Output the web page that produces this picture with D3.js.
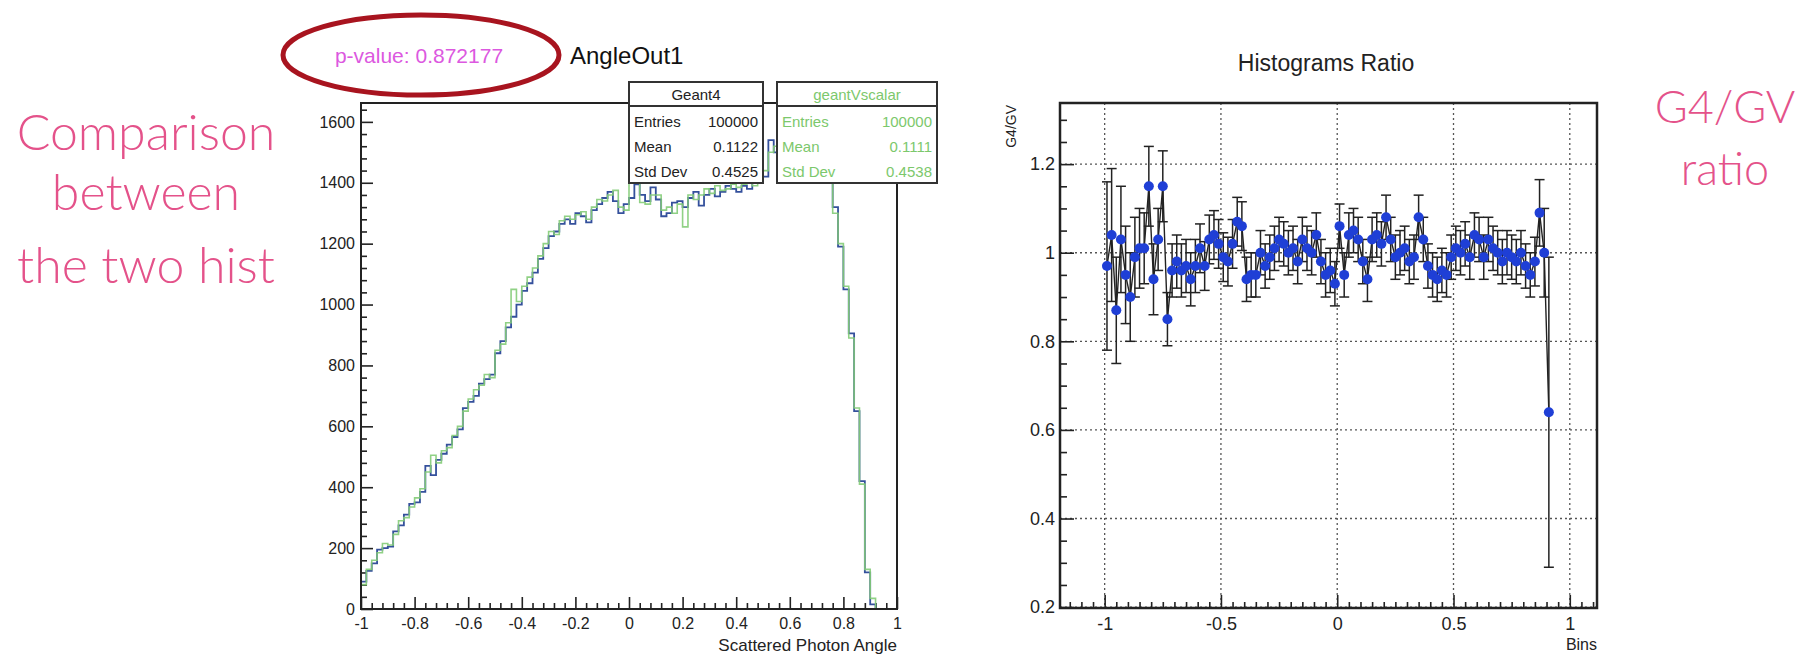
<!DOCTYPE html>
<html>
<head>
<meta charset="utf-8">
<script src="https://cdn.jsdelivr.net/npm/d3@7"></script>
<style>
  body { margin: 0; background: #fff; }
  svg text { font-family: "Liberation Sans", Arial, sans-serif; }
</style>
</head>
<body>
<svg id="chart" width="1811" height="655"></svg>
<script>
// histogram binning (AngleOut1): 100 bins on [-1, 1]
const nBins = 100;
const histMin = -1;
const histMax = 1;

const geant4Counts = [
  90, 125, 150, 195, 200, 205, 255, 275, 310, 345,
  350, 385, 470, 440, 490, 510, 540, 565, 590, 660,
  680, 700, 740, 755, 770, 840, 880, 925, 960, 1000,
  1045, 1070, 1105, 1150, 1185, 1225, 1240, 1265, 1280, 1265,
  1300, 1290, 1270, 1310, 1330, 1350, 1370, 1340, 1300, 1330,
  1350, 1395, 1360, 1340, 1385, 1345, 1290, 1300, 1335, 1340,
  1320, 1350, 1370, 1325, 1360, 1380, 1355, 1370, 1390, 1380,
  1370, 1390, 1380, 1400, 1410, 1420, 1540, 1500, 1520, 1505,
  1530, 1510, 1540, 1520, 1500, 1490, 1450, 1400, 1320, 1190,
  1050, 905, 650, 420, 120, 15, 0, 0, 0, 0
];

const vscalarCounts = [
  80, 130, 160, 185, 215, 210, 245, 290, 300, 335,
  365, 395, 450, 505, 480, 520, 530, 570, 600, 650,
  690, 720, 735, 770, 760, 850, 870, 940, 1050, 1010,
  1060, 1090, 1120, 1160, 1200, 1240, 1230, 1275, 1290, 1280,
  1295, 1305, 1280, 1320, 1345, 1340, 1360, 1375, 1320, 1310,
  1420, 1400, 1335, 1330, 1360, 1360, 1310, 1320, 1300, 1330,
  1255, 1360, 1345, 1360, 1380, 1365, 1390, 1375, 1380, 1395,
  1385, 1395, 1400, 1390, 1420, 1440, 1500, 1520, 1510, 1530,
  1515, 1525, 1510, 1530, 1495, 1480, 1440, 1420, 1300, 1200,
  1060, 890, 660, 410, 130, 35, 0, 0, 0, 0
];

// G4/GV ratio per filled bin (first 96 bins)
const ratioValues = [
  0.97, 1.04, 0.87, 1.03, 0.95, 0.90, 0.99, 1.01, 1.01, 1.15,
  0.94, 1.03, 1.15, 0.85, 0.96, 0.98, 0.96, 0.97, 0.94, 0.97,
  1.01, 0.97, 1.03, 1.04, 1.02, 0.99, 0.98, 1.02, 1.07, 1.06,
  0.94, 0.95, 0.95, 1.00, 0.97, 0.99, 1.01, 1.03, 1.02, 1.00,
  1.01, 0.98, 1.03, 1.01, 1.00, 1.04, 0.98, 0.95, 0.96, 0.93,
  1.06, 0.95, 1.04, 1.05, 1.03, 0.98, 0.94, 1.03, 1.04, 1.02,
  1.08, 1.03, 0.99, 1.00, 1.01, 0.98, 0.99, 1.08, 1.03, 0.97,
  0.95, 0.94, 0.96, 0.95, 0.99, 1.01, 1.00, 1.02, 0.99, 1.04,
  1.03, 0.99, 1.03, 1.01, 1.00, 0.98, 1.00, 0.99, 0.98, 1.00,
  0.97, 0.95, 0.98, 1.09, 1.00, 0.64
];

const ratioErrors = [
  0.19, 0.15, 0.12, 0.12, 0.11, 0.10, 0.09, 0.09, 0.08, 0.09,
  0.08, 0.07, 0.08, 0.06, 0.06, 0.06, 0.06, 0.06, 0.06, 0.06,
  0.055, 0.055, 0.055, 0.055, 0.055, 0.055, 0.055, 0.055, 0.055, 0.055,
  0.05, 0.05, 0.05, 0.05, 0.05, 0.05, 0.05, 0.05, 0.05, 0.05,
  0.05, 0.05, 0.05, 0.05, 0.05, 0.05, 0.05, 0.05, 0.05, 0.05,
  0.05, 0.05, 0.05, 0.05, 0.05, 0.05, 0.05, 0.05, 0.05, 0.05,
  0.05, 0.05, 0.05, 0.05, 0.05, 0.05, 0.05, 0.05, 0.05, 0.05,
  0.05, 0.05, 0.05, 0.05, 0.05, 0.05, 0.05, 0.05, 0.05, 0.05,
  0.05, 0.05, 0.05, 0.05, 0.05, 0.05, 0.05, 0.05, 0.05, 0.05,
  0.05, 0.05, 0.055, 0.075, 0.10, 0.35
];

const histYTicks = [0, 200, 400, 600, 800, 1000, 1200, 1400, 1600];
const histXTicks = [-1, -0.8, -0.6, -0.4, -0.2, 0, 0.2, 0.4, 0.6, 0.8, 1];
const ratioYTicks = [0.2, 0.4, 0.6, 0.8, 1, 1.2];
const ratioXTicks = [-1, -0.5, 0, 0.5, 1];

const statNames = ["Geant4", "geantVscalar"];
const statEntries = ["100000", "100000"];
const statMeans = ["0.1122", "0.1111"];
const statStdDevs = ["0.4525", "0.4538"];

const blue = "#34509c";
const green = "#84cc78";
const pink = "#e4528a";

const svg = d3.select("#chart");

// ---------- left pad: the two histograms ----------
const hx = d3.scaleLinear().domain([histMin, histMax]).range([361, 897]);
const hy = d3.scaleLinear().domain([0, 1662]).range([609, 103]);

function styleAxis(g, size) {
  g.select(".domain").remove();
  g.selectAll("line").attr("stroke", "#222").attr("stroke-width", 1.6);
  g.selectAll("text").attr("fill", "#222").style("font-size", size + "px");
}

svg.append("g")
  .attr("transform", "translate(361,0)")
  .call(d3.axisLeft(hy).tickValues(histYTicks).tickSize(-12).tickPadding(6).tickFormat(d => String(d)))
  .call(g => styleAxis(g, 16));
svg.append("g")
  .attr("transform", "translate(361,0)")
  .call(d3.axisLeft(hy).tickValues(d3.range(0, 1660, 40).filter(v => v % 200)).tickSize(-6).tickFormat(""))
  .call(g => styleAxis(g, 16));
svg.append("g")
  .attr("transform", "translate(0,609)")
  .call(d3.axisBottom(hx).tickValues(histXTicks).tickSize(-12).tickPadding(9).tickFormat(d => String(d)))
  .call(g => styleAxis(g, 16));
svg.append("g")
  .attr("transform", "translate(0,609)")
  .call(d3.axisBottom(hx).tickValues(d3.range(-25, 26).map(i => i * 0.04).filter((v, i) => i % 5)).tickSize(-6).tickFormat(""))
  .call(g => styleAxis(g, 16));

const edges = d3.range(nBins + 1).map(i => histMin + i * (histMax - histMin) / nBins);
function stepPoints(counts) {
  const pts = [[edges[0], 0]];
  counts.forEach((c, i) => pts.push([edges[i], c]));
  pts.push([edges[nBins], counts[nBins - 1]]);
  return pts;
}
const histLine = d3.line().x(d => hx(d[0])).y(d => hy(d[1])).curve(d3.curveStepAfter);

svg.append("path").datum(stepPoints(geant4Counts))
  .attr("d", histLine).attr("fill", "none").attr("stroke", blue).attr("stroke-width", 1.8);
svg.append("path").datum(stepPoints(vscalarCounts))
  .attr("d", histLine).attr("fill", "none").attr("stroke", green).attr("stroke-width", 1.6).attr("opacity", 0.9);

svg.append("rect").attr("x", 361).attr("y", 103).attr("width", 536).attr("height", 506)
  .attr("fill", "none").attr("stroke", "#222").attr("stroke-width", 2);

// stat boxes
const boxX = [629, 777];
const boxW = [134, 160];
statNames.forEach((name, i) => {
  const col = i === 0 ? "#222" : "#7cc86c";
  const g = svg.append("g").attr("transform", `translate(${boxX[i]},82)`);
  g.append("rect").attr("width", boxW[i]).attr("height", 101)
    .attr("fill", "#fff").attr("stroke", "#333").attr("stroke-width", 2);
  g.append("line").attr("x1", 0).attr("x2", boxW[i]).attr("y1", 24).attr("y2", 24)
    .attr("stroke", "#333").attr("stroke-width", 2);
  g.append("text").attr("x", boxW[i] / 2).attr("y", 18).attr("text-anchor", "middle")
    .attr("fill", col).style("font-size", "15px").text(name);
  const rows = [["Entries", statEntries[i]], ["Mean", statMeans[i]], ["Std Dev", statStdDevs[i]]];
  rows.forEach((r, j) => {
    g.append("text").attr("x", 5).attr("y", 45 + j * 25).attr("fill", col)
      .style("font-size", "15px").text(r[0]);
    g.append("text").attr("x", boxW[i] - 5).attr("y", 45 + j * 25).attr("text-anchor", "end")
      .attr("fill", col).style("font-size", "15px").text(r[1]);
  });
});

svg.append("text").attr("x", 897).attr("y", 651).attr("text-anchor", "end")
  .attr("fill", "#222").style("font-size", "17px").text("Scattered Photon Angle");
svg.append("text").attr("x", 570).attr("y", 64)
  .attr("fill", "#111").style("font-size", "24px").text("AngleOut1");
svg.append("text").attr("x", 419).attr("y", 63).attr("text-anchor", "middle")
  .attr("fill", "#dc58e0").style("font-size", "21px").text("p-value: 0.872177");
svg.append("ellipse").attr("cx", 421).attr("cy", 55).attr("rx", 138).attr("ry", 40)
  .attr("fill", "none").attr("stroke", "#a8141f").attr("stroke-width", 5);

// ---------- right pad: ratio graph ----------
const rx = d3.scaleLinear().domain([-1.192, 1.117]).range([1060, 1597]);
const ry = d3.scaleLinear().domain([0.198, 1.338]).range([608, 103]);

ratioXTicks.forEach(v => {
  svg.append("line").attr("x1", rx(v)).attr("x2", rx(v)).attr("y1", 103).attr("y2", 608)
    .attr("stroke", "#555").attr("stroke-width", 1.3).attr("stroke-dasharray", "2,3");
});
ratioYTicks.forEach(v => {
  svg.append("line").attr("x1", 1060).attr("x2", 1597).attr("y1", ry(v)).attr("y2", ry(v))
    .attr("stroke", "#555").attr("stroke-width", 1.3).attr("stroke-dasharray", "2,3");
});

svg.append("g")
  .attr("transform", "translate(1060,0)")
  .call(d3.axisLeft(ry).tickValues(ratioYTicks).tickSize(-14).tickPadding(5).tickFormat(d => String(d)))
  .call(g => styleAxis(g, 18));
svg.append("g")
  .attr("transform", "translate(1060,0)")
  .call(d3.axisLeft(ry).tickValues(d3.range(4, 27).map(i => i * 0.05).filter((v, i) => i % 4)).tickSize(-7).tickFormat(""))
  .call(g => styleAxis(g, 18));
svg.append("g")
  .attr("transform", "translate(0,608)")
  .call(d3.axisBottom(rx).tickValues(ratioXTicks).tickSize(-13).tickPadding(9).tickFormat(d => String(d)))
  .call(g => styleAxis(g, 18));
svg.append("g")
  .attr("transform", "translate(0,608)")
  .call(d3.axisBottom(rx).tickValues(d3.range(-23, 23).map(i => i * 0.05).filter(v => Math.abs(v * 2 - Math.round(v * 2)) > 1e-6)).tickSize(-6).tickFormat(""))
  .call(g => styleAxis(g, 18));

const centers = ratioValues.map((v, i) => (edges[i] + edges[i + 1]) / 2);
const pts = ratioValues.map((v, i) => ({ x: centers[i], y: v, e: ratioErrors[i] }));

const bars = svg.append("g").attr("stroke", "#222").attr("stroke-width", 1.5);
pts.forEach(p => {
  const x = rx(p.x), y0 = ry(p.y - p.e), y1 = ry(p.y + p.e);
  bars.append("line").attr("x1", x).attr("x2", x).attr("y1", y0).attr("y2", y1);
  bars.append("line").attr("x1", x - 5).attr("x2", x + 5).attr("y1", y0).attr("y2", y0);
  bars.append("line").attr("x1", x - 5).attr("x2", x + 5).attr("y1", y1).attr("y2", y1);
});

svg.append("path").datum(pts)
  .attr("d", d3.line().x(d => rx(d.x)).y(d => ry(d.y)))
  .attr("fill", "none").attr("stroke", "#222").attr("stroke-width", 1.4);

svg.append("g").selectAll("circle").data(pts).join("circle")
  .attr("cx", d => rx(d.x)).attr("cy", d => ry(d.y)).attr("r", 5)
  .attr("fill", "#1f3fd6");

svg.append("rect").attr("x", 1060).attr("y", 103).attr("width", 537).attr("height", 505)
  .attr("fill", "none").attr("stroke", "#222").attr("stroke-width", 2.5);

svg.append("text").attr("x", 1326).attr("y", 71).attr("text-anchor", "middle")
  .attr("fill", "#222").style("font-size", "23px").text("Histograms Ratio");
svg.append("text").attr("transform", "translate(1016,105) rotate(-90)").attr("text-anchor", "end")
  .attr("fill", "#222").style("font-size", "14px").text("G4/GV");
svg.append("text").attr("x", 1597).attr("y", 650).attr("text-anchor", "end")
  .attr("fill", "#222").style("font-size", "16px").text("Bins");

// ---------- handwritten notes ----------
const noteLeft = ["Comparison", "between", "the two hist"];
const noteRight = ["G4/GV", "ratio"];
noteLeft.forEach((t, i) => {
  svg.append("text").attr("x", 146).attr("y", [150, 210, 283][i]).attr("text-anchor", "middle")
    .attr("fill", pink).style("font-family", "Lato, 'Open Sans', sans-serif")
    .style("font-weight", 300).style("font-size", "50px").text(t);
});
noteRight.forEach((t, i) => {
  svg.append("text").attr("x", 1725).attr("y", [123, 185][i]).attr("text-anchor", "middle")
    .attr("fill", pink).style("font-family", "Lato, 'Open Sans', sans-serif")
    .style("font-weight", 300).style("font-size", "45px").text(t);
});
</script>
</body>
</html>
